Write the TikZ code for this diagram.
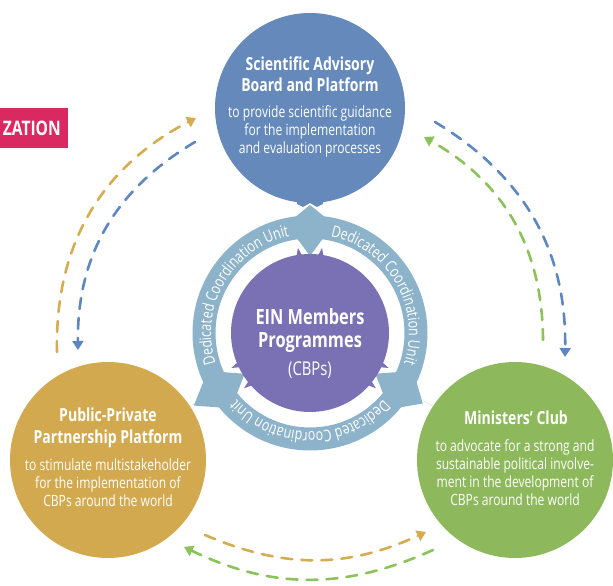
\documentclass[tikz,border=0pt]{standalone}
\usepackage{fontspec}
\setmainfont{Open Sans}[FakeStretch=0.78]
\usetikzlibrary{arrows.meta,decorations.text}

\definecolor{sabblue}{HTML}{6489BA}
\definecolor{ringblue}{HTML}{8DB3CB}
\definecolor{einpurple}{HTML}{7A70B4}
\definecolor{pppgold}{HTML}{D2A94F}
\definecolor{mcgreen}{HTML}{8DB95C}
\definecolor{orgpink}{HTML}{DA2960}
\definecolor{arrblue}{HTML}{5E87C2}
\definecolor{arrgold}{HTML}{D5AC50}
\definecolor{arrgreen}{HTML}{8CC25A}

\newcommand{\ttlfont}{\fontsize{18}{21.5}\selectfont\bfseries}
\newcommand{\txtfont}{\fontsize{15.5}{18}\selectfont}
\newcommand{\ringfont}{\fontsize{16}{16}\selectfont}

\tikzset{
  bubble/.style={circle, inner sep=0pt, minimum size=#1},
  ttl/.style={inner sep=0pt, align=center, text=white, font=\ttlfont},
  txt/.style={inner sep=0pt, align=center, text=white, font=\txtfont},
  flow/.style={line width=2.6pt, dash pattern=on 11pt off 9pt, line cap=round,
    -{Triangle[width=11pt,length=9pt]}},
  ringtext/.style={decorate, decoration={text along path, text align=center,
    text={|\ringfont\color{white}|Dedicated Coordination Unit}}}
}

\begin{document}
\begin{tikzpicture}[x=1pt,y=1pt]

\useasboundingbox (0,0) rectangle (613,586);
\clip (0,0) rectangle (613,586);

% tag at the left
\fill[orgpink] (0,438) rectangle (68,478);
\node[ttl, font=\fontsize{20}{20}\selectfont\bfseries, anchor=east] (tag) at (61,458) {ZATION};

% outer circles
\node[bubble=190pt, fill=sabblue] (sab) at (310,478) {};
\node[bubble=196pt, fill=pppgold] (ppp) at (108,126) {};
\node[bubble=196pt, fill=mcgreen] (mc) at (515,126) {};

% tabs of the outer circles
\fill[sabblue] (297,390) -- (297,382) -- (303,379) -- (310,383) -- (317,379) -- (323,382) -- (323,390) -- cycle;
\fill[pppgold] (108,126) ++(28:97) -- (108,126) ++(33:109) -- (108,126) ++(38:97) -- cycle;
\fill[mcgreen] (515,126) ++(142:97) -- (515,126) ++(147:109) -- (515,126) ++(152:97) -- cycle;

% ring and centre
\begin{scope}[shift={(310,253)}]
\draw[ringblue, line width=23pt] (0,0) circle (106);
\fill[ringblue] (90:128) -- (98:116) -- (98:96) -- (90:77) -- (82:96) -- (82:116) -- cycle;
\fill[ringblue] (212:137) -- (220:116) -- (220:96) -- (212:77) -- (204:96) -- (204:116) -- cycle;
\fill[ringblue] (328:133) -- (336:116) -- (336:96) -- (328:77) -- (320:96) -- (320:116) -- cycle;

\fill[einpurple] (0,0) circle (79);
\fill[einpurple] (80:78) -- (82:86) -- (84:78) -- cycle;
\fill[einpurple] (96:78) -- (98:86) -- (100:78) -- cycle;
\fill[einpurple] (202:78) -- (204:86) -- (206:78) -- cycle;
\fill[einpurple] (218:78) -- (220:86) -- (222:78) -- cycle;
\fill[einpurple] (318:78) -- (320:86) -- (322:78) -- cycle;
\fill[einpurple] (334:78) -- (336:86) -- (338:78) -- cycle;

\path[ringtext] (202:99) arc[start angle=202, end angle=98, radius=99];
\path[ringtext] (82:99) arc[start angle=82, end angle=-22, radius=99];
\path[ringtext] (-38:99) arc[start angle=-38, end angle=-142, radius=99];
\end{scope}

% texts
\node[ttl] (sabttl) at (310,512) {Scientific Advisory\\Board and Platform};
\node[txt] (sabtxt) at (310,455) {to provide scientific guidance\\for the implementation\\and evaluation processes};

\node[ttl, font=\fontsize{21}{23}\selectfont\bfseries] (einttl) at (310,255) {EIN Members\\Programmes};
\node[txt, font=\fontsize{19}{19}\selectfont] (eintxt) at (310,216) {(CBPs)};

\node[ttl] (pppttl) at (108,158) {Public-Private\\Partnership Platform};
\node[txt] (ppptxt) at (108,103) {to stimulate multistakeholder\\for the implementation of\\CBPs around the world};

\node[ttl] (mcttl) at (516,168) {Ministers’ Club};
\node[txt] (mctxt) at (515,113) {to advocate for a strong and\\sustainable political involve-\\ment in the development of\\CBPs around the world};

% arrow ends
\coordinate (lg1) at (57,234);
\coordinate (lg2) at (196,468);
\coordinate (lb1) at (195,444);
\coordinate (lb2) at (78,236);
\coordinate (rb1) at (435,464);
\coordinate (rb2) at (565,229);
\coordinate (rg1) at (543,246);
\coordinate (rg2) at (424,449);
\coordinate (bg1) at (205,51);
\coordinate (bg2) at (426,54);
\coordinate (bn1) at (433,36);
\coordinate (bn2) at (184,39);

% arrows
\draw[flow, arrgold] (lg1) to[bend left=32] (lg2);
\draw[flow, arrblue] (lb1) to[bend right=30] (lb2);
\draw[flow, arrblue] (rb1) to[bend left=30] (rb2);
\draw[flow, arrgreen] (rg1) to[bend right=30] (rg2);
\draw[flow, arrgold] (bg1) to[bend right=24] (bg2);
\draw[flow, arrgreen] (bn1) to[bend left=25] (bn2);

\end{tikzpicture}
\end{document}
